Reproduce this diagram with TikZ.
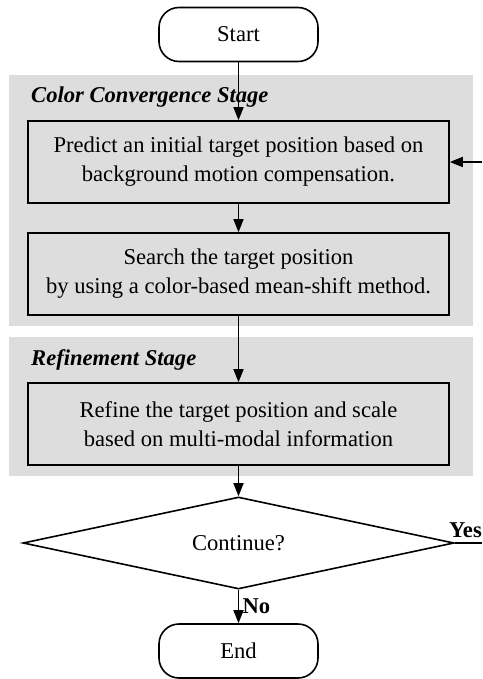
\documentclass[tikz,border=0pt]{standalone}
\usepackage{fontspec}
\setmainfont{Liberation Serif}
\usetikzlibrary{positioning}
\usetikzlibrary{arrows.meta}
\usetikzlibrary{shapes.geometric}
\tikzstyle{every link} = []
\tikzstyle{link} = [-{Triangle[length=13pt,width=10pt]}, draw, line width=1.6pt, every link]
\definecolor{stagegray}{RGB}{221,221,221}

\begin{document}
\begin{tikzpicture}[x=1pt,y=-1pt]
        \tikzstyle{every node} = [font=\fontsize{22.6}{29}\selectfont]
        \tikzstyle{terminal} = [draw, line width=1.6pt, rounded corners=20pt, fill=white, minimum width=159pt, minimum height=54pt]
        \tikzstyle{process} = [draw, line width=1.6pt, minimum width=421pt, minimum height=82pt, align=center]
        \tikzstyle{stage} = [fill=stagegray, minimum width=464pt, minimum height=251pt, anchor=north west, inner sep=0]
        \tikzstyle{stagename} = [font=\fontsize{22.6}{27}\selectfont\bfseries\itshape, anchor=base west, inner sep=0]
        \tikzstyle{answer} = [font=\fontsize{22.6}{27}\selectfont\bfseries]
        \useasboundingbox (0,0) rectangle (482,679);

        \node[terminal] (start) at (238.5,34.5) {Start};

        \node[stage] (colorstage) at (9,75) {};
        \node[stagename] (colorname) at (31,103) {Color Convergence Stage};
        \node[process] (predict) at (238.5,162) {Predict an initial target position based on\\background motion compensation.};
        \node[process] (search) at (238.5,274) {Search the target position\\by using a color-based mean-shift method.};

        \node[stage, minimum height=139pt] (refinestage) at (9,337) {};
        \node[stagename] (refinename) at (31,365) {Refinement Stage};
        \node[process] (refine) at (238.5,424) {Refine the target position and scale\\based on multi-modal information};

        \node[diamond, draw, line width=1.6pt, aspect=4.8, minimum width=431pt, minimum height=92pt, inner sep=0] (cont) at (238.5,543) {Continue?};
        \node[terminal] (end) at (238.5,651) {End};

        \coordinate (loopin) at (482,162);
        \coordinate (yesout) at (482,543);

        \draw[link] (start) -- (predict);
        \draw[link] (predict) -- (search);
        \draw[link] (search) -- (refine);
        \draw[link] (refine) -- (cont);
        \draw[link] (cont) -- node[answer, anchor=west] (nolabel) {No} (end);
        \draw[line width=1.6pt] (cont.east) -- (yesout);
        \node[answer, anchor=base east, inner sep=0] (yeslabel) at (482,537) {Yes};
        \draw[link] (loopin) -- (predict);
\end{tikzpicture}
\end{document}
